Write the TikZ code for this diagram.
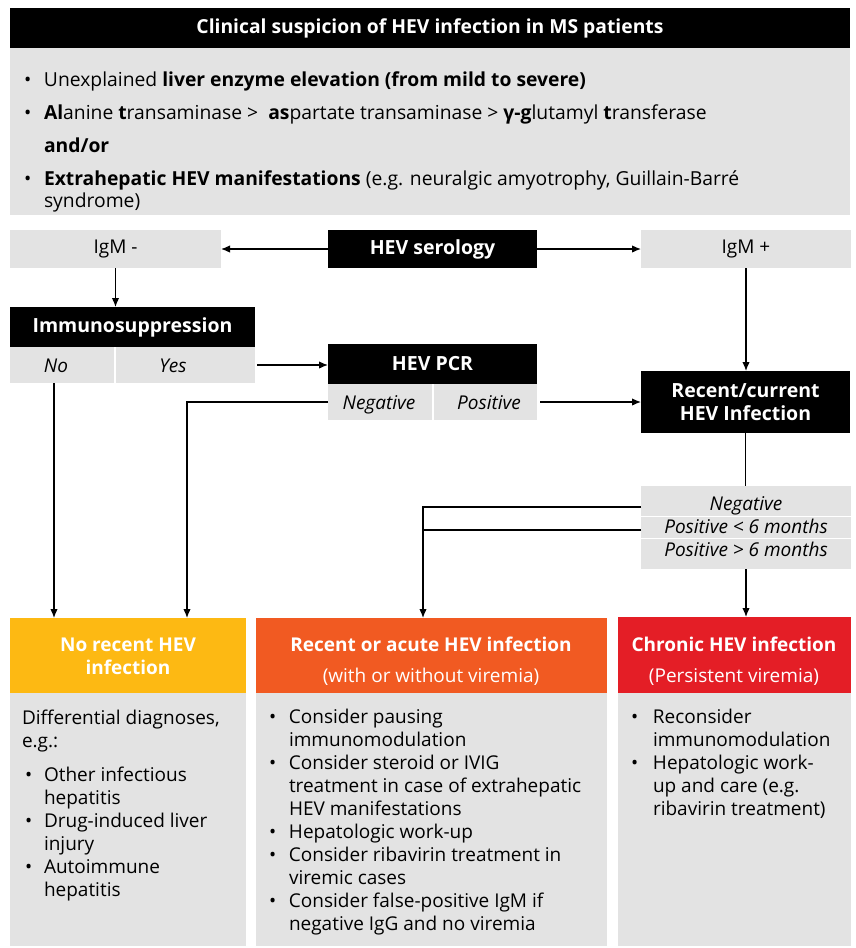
\documentclass[tikz,border=0pt]{standalone}
\usepackage{fontspec}
\setmainfont{Open Sans}
\usetikzlibrary{arrows.meta,calc}
\definecolor{boxgray}{HTML}{E3E3E3}
\definecolor{hdyellow}{HTML}{FDB913}
\definecolor{hdorange}{HTML}{F15A22}
\definecolor{hdred}{HTML}{E41E26}
\begin{document}
\begin{tikzpicture}[x=1pt,y=-1pt,
  every node/.style={inner sep=0pt,outer sep=0pt},
  fs/.style={font=\fontsize{19}{23}\selectfont},
  gbox/.style={fill=boxgray,anchor=north west,font=\fontsize{19}{23}\selectfont},
  bbox/.style={fill=black,text=white,anchor=north west,font=\fontsize{19.5}{23}\selectfont\bfseries},
  hbox/.style={anchor=north west},
  htxt/.style={anchor=base,text=white,font=\fontsize{19}{23}\selectfont},
  txt/.style={anchor=base,font=\fontsize{19}{23}\selectfont},
  conn/.style={line width=1.3pt},
  arr/.style={conn,-{Latex[length=9pt,width=7.5pt]}}]
\useasboundingbox (0,0) rectangle (855,948);
\fill[white] (0,0) rectangle (855,948);

% top
\node[bbox,minimum width=840pt,minimum height=40pt,font=\fontsize{19.3}{22}\selectfont\bfseries] (title) at (10,8) {Clinical suspicion of HEV infection in MS patients};
\node[gbox,minimum width=840pt,minimum height=167pt] (sus) at (10,48) {};
\node[anchor=base west,font=\fontsize{19.3}{22}\selectfont] (sustext) at (24,86) {\begin{tabular}[t]{@{}p{20pt}@{}l@{}}
\textbullet & Unexplained \textbf{liver enzyme elevation (from mild to severe)}\\[11pt]
\textbullet & \textbf{Al}anine \textbf{t}ransaminase >\ \ \textbf{as}partate transaminase > \textbf{γ-g}lutamyl \textbf{t}ransferase\\[11pt]
 & \textbf{and/or}\\[11pt]
\textbullet & \textbf{Extrahepatic HEV manifestations} (e.g. neuralgic amyotrophy, Guillain-Barré\\
 & syndrome)
\end{tabular}};

% serology row
\node[gbox,minimum width=211pt,minimum height=38pt] (igmneg) at (10,230) {IgM -};
\node[bbox,minimum width=209pt,minimum height=38pt] (sero) at (328,230) {HEV serology};
\node[gbox,minimum width=210pt,minimum height=38pt] (igmpos) at (641,230) {IgM +};

% immunosuppression
\node[bbox,minimum width=245pt,minimum height=40pt] (imm) at (10,307) {Immunosuppression};
\node[gbox,minimum width=104pt,minimum height=36pt] (nocell) at (10,347) {};
\node[gbox,minimum width=139pt,minimum height=36pt] (yescell) at (116,347) {};
\node[txt,font=\fontsize{19}{23}\selectfont\itshape] (notxt) at (56,372) {No};
\node[txt,font=\fontsize{19}{23}\selectfont\itshape] (yestxt) at (173,372) {Yes};

% PCR
\node[bbox,minimum width=209pt,minimum height=40pt] (pcr) at (328,344) {HEV PCR};
\node[gbox,minimum width=104pt,minimum height=36pt] (pcrneg) at (328,384) {};
\node[gbox,minimum width=103pt,minimum height=36pt] (pcrpos) at (434,384) {};
\node[txt,font=\fontsize{19}{23}\selectfont\itshape] (negtxt) at (379,409) {Negative};
\node[txt,font=\fontsize{19}{23}\selectfont\itshape] (postxt) at (489,409) {Positive};

% recent/current
\node[bbox,minimum width=209pt,minimum height=62pt,align=center] (recent) at (641,371) {Recent/current\\HEV Infection};

% stack
\node[gbox,minimum width=210pt,minimum height=83pt] (stack) at (641,486) {};
\draw[white,line width=1.5pt] ($(stack.north west)+(0,30.5)$) -- ($(stack.north east)+(0,30.5)$);
\draw[white,line width=1.5pt] ($(stack.north west)+(0,52.5)$) -- ($(stack.north east)+(0,52.5)$);
\node[txt,font=\fontsize{19}{23}\selectfont\itshape] (st1) at (746,510) {Negative};
\node[txt,font=\fontsize{19}{23}\selectfont\itshape] (st2) at (746,533) {Positive < 6 months};
\node[txt,font=\fontsize{19}{23}\selectfont\itshape] (st3) at (746,556) {Positive > 6 months};

% bottom boxes
\node[hbox,fill=hdyellow,minimum width=236pt,minimum height=75pt] (norech) at (10,618) {};
\node[gbox,minimum width=236pt,minimum height=253pt] (norecb) at (10,693) {};
\node[hbox,fill=hdorange,minimum width=351pt,minimum height=75pt] (acuteh) at (256,618) {};
\node[gbox,minimum width=351pt,minimum height=253pt] (acuteb) at (256,693) {};
\node[hbox,fill=hdred,minimum width=233pt,minimum height=76pt] (chronh) at (618,617) {};
\node[gbox,minimum width=233pt,minimum height=253pt] (chronb) at (618,693) {};

\node[htxt,font=\fontsize{19}{23}\selectfont\bfseries] (nh1) at (128,651) {No recent HEV};
\node[htxt,font=\fontsize{19}{23}\selectfont\bfseries] (nh2) at (128,674) {infection};
\node[htxt,font=\fontsize{19}{23}\selectfont\bfseries] (ah1) at (431,651) {Recent or acute HEV infection};
\node[htxt] (ah2) at (431,682) {(with or without viremia)};
\node[htxt,font=\fontsize{19}{23}\selectfont\bfseries] (ch1) at (734,651) {Chronic HEV infection};
\node[htxt] (ch2) at (734,682) {(Persistent viremia)};

\node[anchor=base west,fs] (nortxt) at (22,724) {\begin{tabular}[t]{@{}p{22pt}@{}l@{}}
\multicolumn{2}{@{}l@{}}{Differential diagnoses,}\\
\multicolumn{2}{@{}l@{}}{e.g.:}\\[11pt]
\hspace{3pt}\textbullet & Other infectious\\
 & hepatitis\\
\hspace{3pt}\textbullet & Drug-induced liver\\
 & injury\\
\hspace{3pt}\textbullet & Autoimmune\\
 & hepatitis
\end{tabular}};

\node[anchor=base west,fs] (acutxt) at (269,723) {\begin{tabular}[t]{@{}p{20pt}@{}l@{}}
\textbullet & Consider pausing\\
 & immunomodulation\\
\textbullet & Consider steroid or IVIG\\
 & treatment in case of extrahepatic\\
 & HEV manifestations\\
\textbullet & Hepatologic work-up\\
\textbullet & Consider ribavirin treatment in\\
 & viremic cases\\
\textbullet & Consider false-positive IgM if\\
 & negative IgG and no viremia
\end{tabular}};

\node[anchor=base west,fs] (chrtxt) at (631,723) {\begin{tabular}[t]{@{}p{22pt}@{}l@{}}
\textbullet & Reconsider\\
 & immunomodulation\\
\textbullet & Hepatologic work-\\
 & up and care (e.g.\\
 & ribavirin treatment)
\end{tabular}};

% coordinates
\coordinate (sa) at ($(stack.north west)+(0,21)$);
\coordinate (sb) at ($(stack.north west)+(0,44)$);
\coordinate (acuin) at ($(acuteh.north west)+(167,0)$);
\coordinate (nrin1) at ($(norech.north west)+(44,0)$);
\coordinate (nrin2) at ($(norech.north west)+(177,0)$);

% connectors
\draw[arr] (sero.west) -- (igmneg.east);
\draw[arr] (sero.east) -- (igmpos.west);
\draw[arr] (igmneg.south) -- (igmneg.south |- imm.north);
\draw[arr] ([xshift=2pt]yescell.east) -- (yescell.east -| pcr.west);
\draw[arr] ([xshift=3pt]pcrpos.east) -- (pcrpos.east -| recent.west);
\draw[arr] (igmpos.south) -- (igmpos.south |- recent.north);
\draw[conn] (recent.south) -- (recent.south |- stack.north);
\draw[arr] (sa) -| (acuin);
\draw[conn] (sb) -- (sb -| acuin);
\draw[arr] (stack.south) -- (stack.south |- chronh.north);
\draw[arr] (nocell.south -| nrin1) -- (nrin1);
\draw[arr] (pcrneg.west) -| (nrin2);
\end{tikzpicture}
\end{document}
